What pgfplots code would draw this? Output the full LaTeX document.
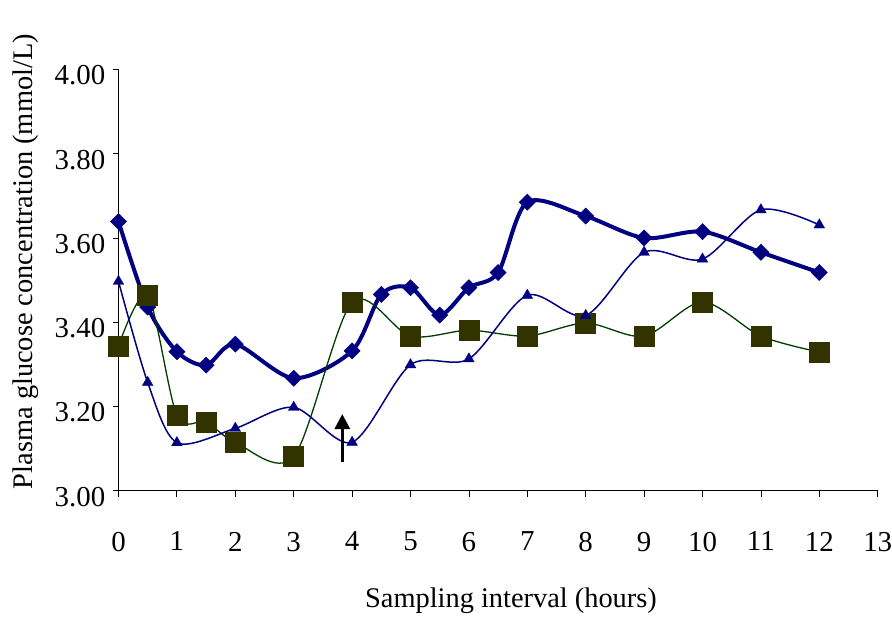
\documentclass[border=0pt]{standalone}
\usepackage{fontspec}
\setmainfont{Liberation Serif}
\usepackage{pgfplots}
\pgfplotsset{compat=1.18}
\usetikzlibrary{arrows.meta}
\definecolor{navyb}{RGB}{0,0,128}
\definecolor{olivesq}{RGB}{51,51,0}
\definecolor{greenln}{RGB}{0,60,0}
\begin{document}
\begin{tikzpicture}
\path[use as bounding box] (-118.5bp,-126.3bp) rectangle (773.5bp,490.7bp);
\begin{axis}[
  scale only axis,
  width=759.2bp, height=421.2bp,
  xmin=0, xmax=13, ymin=3, ymax=4,
  axis lines=left,
  axis line style={-, black, line width=0.8bp},
  tick style={black, line width=0.8bp},
  tick align=outside,
  major tick length=6bp,
  xtick={0,1,...,13},
  xticklabels={0,1,2,3,4,5,6,7,8,9,10,11,12,13},
  ytick={3,3.2,3.4,3.6,3.8,4},
  yticklabels={3.00,3.20,3.40,3.60,3.80,4.00},
  ticklabel style={font=\fontsize{29}{34}\selectfont, inner sep=0pt},
  xticklabel style={anchor=north, yshift=-35bp},
  yticklabel style={anchor=east, xshift=-7bp, yshift=-6bp},
  xlabel={Sampling interval (hours)},
  ylabel={Plasma glucose concentration (mmol/L)},
  label style={font=\fontsize{28.5}{34}\selectfont},
  xlabel style={at={(axis description cs:0.517,-0.262)}, anchor=center},
  ylabel style={at={(axis description cs:-0.1218,0.544)}, anchor=center},
  clip=false,
]
\addplot[navyb, line width=4bp, smooth, tension=0.5, mark=square*, mark size=5.7bp,
  mark options={rotate=45, fill=navyb, draw=navyb, line width=0.5bp}] coordinates {
(0,3.639) (0.5,3.436) (1,3.330) (1.5,3.298) (2,3.348) (3,3.267) (4,3.332) (4.5,3.466)
(5,3.482) (5.5,3.417) (6,3.482) (6.5,3.518) (7,3.685) (8,3.652) (9,3.600) (10,3.615)
(11,3.566) (12,3.518)};
\addplot[greenln, line width=1.3bp, smooth, tension=0.5, mark=square*, mark size=10bp,
  mark options={fill=olivesq, draw=olivesq, line width=0.5bp}] coordinates {
(0,3.344) (0.5,3.464) (1,3.179) (1.5,3.163) (2,3.115) (3,3.081) (4,3.447) (5,3.367)
(6,3.381) (7,3.367) (8,3.398) (9,3.367) (10,3.448) (11,3.367) (12,3.329)};
\addplot[navyb, line width=1.5bp, smooth, tension=0.5, mark=triangle*, mark size=6.2bp,
  mark options={fill=navyb, draw=navyb, line width=0.3bp}] coordinates {
(0,3.497) (0.5,3.257) (1,3.114) (2,3.148) (3,3.198) (4,3.115) (5,3.299) (6,3.313)
(7,3.464) (8,3.416) (9,3.566) (10,3.550) (11,3.667) (12,3.631)};
\draw[black, line width=3bp, -{Triangle[width=15bp,length=15bp]}]
  (axis cs:3.832,3.069) -- (axis cs:3.832,3.182);
\end{axis}
\end{tikzpicture}
\end{document}
